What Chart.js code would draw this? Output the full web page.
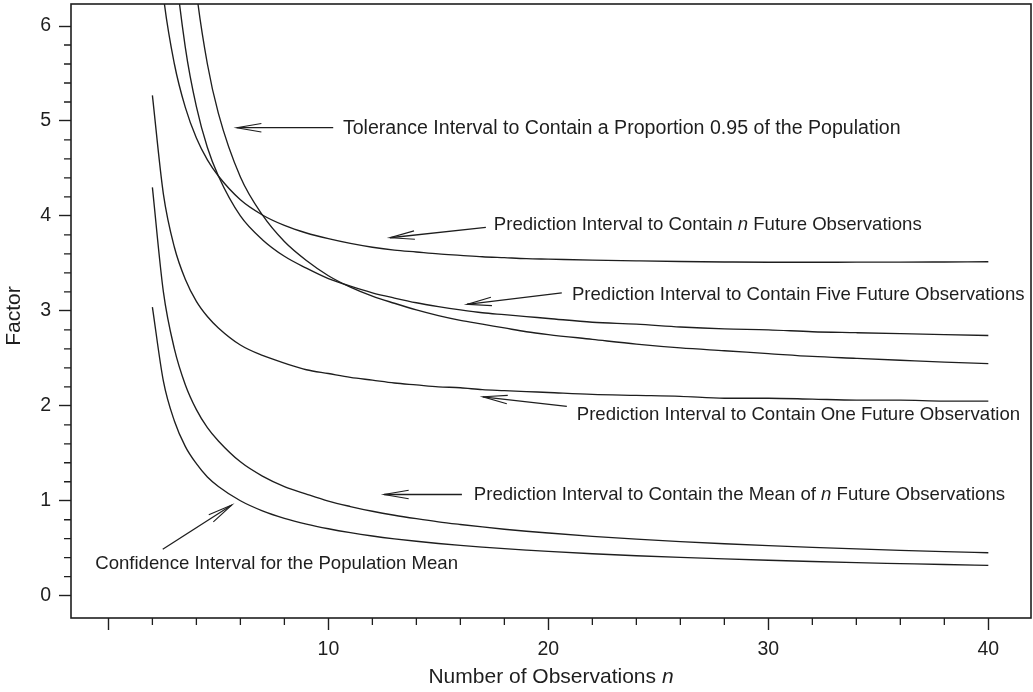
<!DOCTYPE html>
<html>
<head>
<meta charset="utf-8">
<title>Interval factors versus number of observations</title>
<script src="https://cdn.jsdelivr.net/npm/chart.js@4.4.1/dist/chart.umd.min.js"></script>
<style>
  html, body { margin: 0; padding: 0; background: #ffffff; }
  #wrap { width: 1033px; height: 692px; }
</style>
</head>
<body>
<div id="wrap"><canvas id="factors" width="1033" height="692"></canvas></div>
<script>
// Sample sizes at which every factor curve is tabulated
const sampleSizes = [2, 2.5, 3, 3.5, 4, 4.5, 5, 6, 7, 8, 9, 10, 11, 12, 13, 14, 15, 16, 17, 18, 19, 20,
                     22, 24, 26, 28, 30, 32, 34, 36, 38, 40];

// Two-sided 95% factors, one value per sample size above
const toleranceFactor = [37.7, 15.5, 9.92, 7.61, 6.37, 5.60, 5.08, 4.41, 4.01, 3.73, 3.53, 3.37, 3.25, 3.155, 3.08, 3.01, 2.95,
                         2.90, 2.86, 2.82, 2.78, 2.75, 2.70, 2.65, 2.61, 2.58, 2.55, 2.52, 2.50, 2.48, 2.46, 2.445];
const predictAllFactor = [7.59, 6.32, 5.60, 5.14, 4.82, 4.59, 4.42, 4.17, 4.01, 3.90, 3.82, 3.76, 3.71, 3.67, 3.64, 3.62, 3.60,
                          3.585, 3.57, 3.56, 3.55, 3.545, 3.535, 3.527, 3.52, 3.515, 3.512, 3.512, 3.513, 3.514, 3.515, 3.517];
const predictFiveFactor = [12.2, 8.47, 6.75, 5.77, 5.15, 4.72, 4.42, 4.00, 3.75, 3.575, 3.45, 3.34, 3.26, 3.19, 3.135, 3.085, 3.045,
                           3.01, 2.98, 2.96, 2.94, 2.92, 2.88, 2.86, 2.83, 2.81, 2.80, 2.78, 2.77, 2.76, 2.75, 2.74];
const predictOneFactor = [5.27, 4.23, 3.67, 3.33, 3.10, 2.94, 2.82, 2.64, 2.53, 2.45, 2.38, 2.34, 2.30, 2.27, 2.24, 2.22, 2.20,
                          2.19, 2.17, 2.16, 2.15, 2.14, 2.12, 2.11, 2.10, 2.08, 2.08, 2.07, 2.06, 2.06, 2.05, 2.05];
const predictMeanFactor = [4.30, 3.20, 2.60, 2.22, 1.96, 1.77, 1.63, 1.41, 1.26, 1.15, 1.07, 0.996, 0.939, 0.889, 0.847, 0.811, 0.778,
                           0.750, 0.724, 0.700, 0.679, 0.660, 0.625, 0.596, 0.570, 0.547, 0.527, 0.509, 0.493, 0.478, 0.464, 0.452];
const confidenceMeanFactor = [3.04, 2.26, 1.84, 1.57, 1.39, 1.25, 1.15, 1.00, 0.894, 0.815, 0.754, 0.705, 0.664, 0.629, 0.599, 0.573, 0.550,
                              0.530, 0.512, 0.495, 0.480, 0.466, 0.442, 0.421, 0.403, 0.387, 0.373, 0.360, 0.348, 0.338, 0.328, 0.320];

// Axis tick labels
const xTickLabels = ['10', '20', '30', '40'];
const yTickLabels = ['0', '1', '2', '3', '4', '5', '6'];

// Callout texts (italic pieces flagged true) with anchor, tail and tip in data units
const callouts = [
  { parts: [['Tolerance Interval to Contain a Proportion 0.95 of the Population', false]], size: 19.6,
    text: [10.66, 4.918], tail: [10.22, 4.929], tip: [5.834, 4.929] },
  { parts: [['Prediction Interval to Contain ', false], ['n', true], [' Future Observations', false]], size: 18.6,
    text: [17.52, 3.904], tail: [17.16, 3.880], tip: [12.80, 3.770] },
  { parts: [['Prediction Interval to Contain Five Future Observations', false]], size: 18.6,
    text: [21.07, 3.170], tail: [20.61, 3.190], tip: [16.30, 3.068] },
  { parts: [['Prediction Interval to Contain One Future Observation', false]], size: 18.6,
    text: [21.29, 1.905], tail: [20.84, 1.995], tip: [17.02, 2.095] },
  { parts: [['Prediction Interval to Contain the Mean of ', false], ['n', true], [' Future Observations', false]], size: 18.6,
    text: [16.61, 1.060], tail: [16.07, 1.066], tip: [12.53, 1.066] },
  { parts: [['Confidence Interval for the Population Mean', false]], size: 18.6,
    text: [-0.60, 0.335], tail: [2.47, 0.489], tip: [5.61, 0.955] }
];

const FONT = '"Liberation Sans", Arial, Helvetica, sans-serif';
const INK = '#1e1e1e';

function toPoints(values) {
  return sampleSizes.map((n, i) => ({ x: n, y: values[i] }));
}

function curve(label, values) {
  return { label, data: toPoints(values), borderColor: INK, borderWidth: 1.35, pointRadius: 0, fill: false };
}

function drawParts(ctx, parts, x, y, size, align) {
  let total = 0;
  const widths = parts.map(([s, it]) => {
    ctx.font = (it ? 'italic ' : '') + size + 'px ' + FONT;
    const w = ctx.measureText(s).width;
    total += w;
    return w;
  });
  let cx = align === 'center' ? x - total / 2 : x;
  ctx.textAlign = 'left';
  ctx.textBaseline = 'middle';
  parts.forEach(([s, it], i) => {
    ctx.font = (it ? 'italic ' : '') + size + 'px ' + FONT;
    ctx.fillText(s, cx, y);
    cx += widths[i];
  });
}

function drawArrow(ctx, x1, y1, x2, y2) {
  const back = Math.atan2(y1 - y2, x1 - x2);
  const len = 25, spread = 0.17;
  ctx.lineWidth = 1.3;
  ctx.beginPath();
  ctx.moveTo(x1, y1);
  ctx.lineTo(x2, y2);
  ctx.stroke();
  ctx.lineWidth = 1.1;
  ctx.beginPath();
  ctx.moveTo(x2 + len * Math.cos(back + spread), y2 + len * Math.sin(back + spread));
  ctx.lineTo(x2, y2);
  ctx.lineTo(x2 + len * Math.cos(back - spread), y2 + len * Math.sin(back - spread));
  ctx.stroke();
}

// Frame, minor ticks, axis titles and callouts
const decorations = {
  id: 'decorations',
  afterDraw(chart) {
    const { ctx, chartArea: a, scales: { x, y } } = chart;
    ctx.save();
    ctx.strokeStyle = INK;
    ctx.fillStyle = INK;

    ctx.lineWidth = 1.6;
    ctx.strokeRect(a.left, a.top, a.right - a.left, a.bottom - a.top);

    ctx.lineWidth = 1.3;
    ctx.beginPath();
    for (let v = 2; v < 40; v += 2) {
      if (v % 10 === 0) continue;
      const px = x.getPixelForValue(v);
      ctx.moveTo(px, a.bottom);
      ctx.lineTo(px, a.bottom + 7);
    }
    for (let k = 1; k < 30; k++) {
      if (k % 5 === 0) continue;
      const py = y.getPixelForValue(k / 5);
      ctx.moveTo(a.left, py);
      ctx.lineTo(a.left - 7, py);
    }
    ctx.stroke();

    drawParts(ctx, [['Number of Observations ', false], ['n', true]],
              (a.left + a.right) / 2, a.bottom + 59, 21, 'center');
    ctx.save();
    ctx.translate(14, (a.top + a.bottom) / 2 + 5);
    ctx.rotate(-Math.PI / 2);
    drawParts(ctx, [['Factor', false]], 0, 0, 21, 'center');
    ctx.restore();

    callouts.forEach(c => {
      drawParts(ctx, c.parts, x.getPixelForValue(c.text[0]), y.getPixelForValue(c.text[1]), c.size, 'left');
      drawArrow(ctx, x.getPixelForValue(c.tail[0]), y.getPixelForValue(c.tail[1]),
                x.getPixelForValue(c.tip[0]), y.getPixelForValue(c.tip[1]));
    });
    ctx.restore();
  }
};

new Chart(document.getElementById('factors'), {
  type: 'line',
  data: {
    datasets: [
      curve('Tolerance interval, proportion 0.95', toleranceFactor),
      curve('Prediction interval, n future observations', predictAllFactor),
      curve('Prediction interval, five future observations', predictFiveFactor),
      curve('Prediction interval, one future observation', predictOneFactor),
      curve('Prediction interval, mean of n future observations', predictMeanFactor),
      curve('Confidence interval, population mean', confidenceMeanFactor)
    ]
  },
  options: {
    responsive: false,
    animation: false,
    devicePixelRatio: 1,
    layout: { padding: { top: 4, right: 2, left: 0, bottom: 0 } },
    elements: {
      line: { cubicInterpolationMode: 'monotone', capBezierPoints: false },
      point: { radius: 0 }
    },
    plugins: { legend: { display: false }, tooltip: { enabled: false } },
    scales: {
      x: {
        type: 'linear',
        min: -1.7,
        max: 41.94,
        afterFit: s => { s.height = 74; s.paddingLeft = 0; s.paddingRight = 0; },
        border: { display: false },
        grid: { drawOnChartArea: false, drawTicks: true, tickLength: 12, tickColor: INK, tickWidth: 1.4 },
        ticks: {
          stepSize: 10,
          includeBounds: false,
          padding: 8,
          color: INK,
          font: { family: FONT, size: 19.5 },
          maxRotation: 0,
          callback: v => xTickLabels.includes(String(v)) ? String(v) : ''
        }
      },
      y: {
        min: -0.235,
        max: 6.232,
        afterFit: s => { s.width = 71; s.paddingTop = 0; s.paddingBottom = 0; },
        border: { display: false },
        grid: { drawOnChartArea: false, drawTicks: true, tickLength: 12, tickColor: INK, tickWidth: 1.4 },
        ticks: {
          stepSize: 1,
          includeBounds: false,
          padding: 8,
          color: INK,
          font: { family: FONT, size: 19.5 },
          callback: v => yTickLabels.includes(String(v)) ? String(v) : ''
        }
      }
    }
  },
  plugins: [decorations]
});
</script>
</body>
</html>
